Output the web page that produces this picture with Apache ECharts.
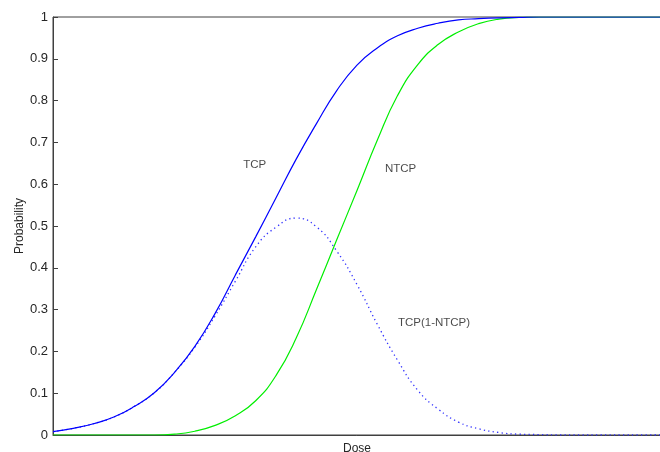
<!DOCTYPE html>
<html>
<head>
<meta charset="utf-8">
<script src="https://cdn.jsdelivr.net/npm/echarts@6/dist/echarts.min.js"></script>
<style>
    html, body { margin: 0; padding: 0; background: #fff; }
    #chart { width: 660px; height: 452px; }
</style>
</head>
<body>
<div id="chart"></div>
<script>
    // dose axis (arbitrary units, no tick labels in the original)
    var dose = [0, 2, 4, 6, 8, 10, 12, 14, 16, 18, 20, 22, 24, 26, 28, 30,
        32, 34, 36, 38, 40, 42, 44, 46, 48, 50, 52, 54, 56, 58, 60]
    var tcp = [0.008, 0.016, 0.027, 0.043, 0.068, 0.101, 0.15, 0.212, 0.291, 0.383,
        0.474, 0.567, 0.66, 0.745, 0.824, 0.885, 0.926, 0.955, 0.973, 0.985,
        0.993, 0.996, 0.998, 0.999, 1, 1, 1, 1, 1, 1, 1]
    var ntcp = [0, 0, 0, 0, 0, 0, 0.002, 0.009, 0.023, 0.046,
        0.082, 0.142, 0.232, 0.348, 0.467, 0.585, 0.705, 0.812, 0.886, 0.934,
        0.964, 0.984, 0.995, 0.999, 1, 1, 1, 1, 1, 1, 1]
    var tcpNtcp = [0.008, 0.016, 0.027, 0.043, 0.068, 0.101, 0.15, 0.21, 0.285, 0.368,
        0.45, 0.497, 0.519, 0.498, 0.44, 0.36, 0.265, 0.179, 0.107, 0.062,
        0.031, 0.015, 0.006, 0.002, 0.001, 0, 0, 0, 0, 0, 0]
    // text annotations placed in data coordinates: [dose, probability, text]
    var notes = [
        [19.9, 0.646, 'TCP'],
        [34.3, 0.636, 'NTCP'],
        [37.6, 0.268, 'TCP(1-NTCP)']
    ]

    function pairs(ys) {
        return dose.map(function (d, i) { return [d, ys[i]] })
    }

    var chart = echarts.init(document.getElementById('chart'))
    var axisColor = '#404040'
    var font = 'Arial, "Liberation Sans", sans-serif'

    chart.setOption({
        animation: false,
        grid: {
            left: 53, right: -1, top: 17, bottom: 17,
            containLabel: false, outerBoundsMode: 'none',
            show: true, borderColor: axisColor, borderWidth: 1
        },
        xAxis: {
            type: 'value', min: 0, max: 60,
            name: 'Dose', nameLocation: 'middle', nameGap: 8,
            nameTextStyle: { fontFamily: font, fontSize: 12, color: '#262626' },
            axisLine: { show: true, lineStyle: { color: axisColor } },
            axisTick: { show: false },
            axisLabel: { show: false },
            splitLine: { show: false }
        },
        yAxis: {
            type: 'value', min: 0, max: 1, interval: 0.1,
            name: 'Probability', nameLocation: 'middle', nameGap: 27, nameMoveOverlap: false,
            nameTextStyle: { fontFamily: font, fontSize: 12, color: '#262626' },
            axisLine: { show: true, lineStyle: { color: axisColor } },
            axisTick: { show: true, inside: true, length: 5, lineStyle: { color: axisColor } },
            axisLabel: { margin: 5, fontFamily: font, fontSize: 13, color: '#262626' },
            splitLine: { show: false }
        },
        series: [
            {
                name: 'TCP', type: 'line', data: pairs(tcp), smooth: 0.5,
                showSymbol: false, lineStyle: { color: '#0000ff', width: 1.2 }, z: 3
            },
            {
                name: 'NTCP', type: 'line', data: pairs(ntcp), smooth: 0.5,
                showSymbol: false, lineStyle: { color: '#00ee00', width: 1.2 }, z: 2
            },
            {
                name: 'TCP(1-NTCP)', type: 'line', data: pairs(tcpNtcp), smooth: 0.5,
                showSymbol: false, lineStyle: { color: '#3333ff', width: 1.3, type: [1.3, 3.2] }, z: 1
            },
            {
                type: 'scatter', symbolSize: 0, silent: true,
                data: notes.map(function (n) { return { value: [n[0], n[1]], name: n[2] } }),
                label: {
                    show: true, position: 'inside', formatter: '{b}',
                    fontFamily: font, fontSize: 11.5, color: '#1a1a1a'
                }
            }
        ]
    })
</script>
</body>
</html>
